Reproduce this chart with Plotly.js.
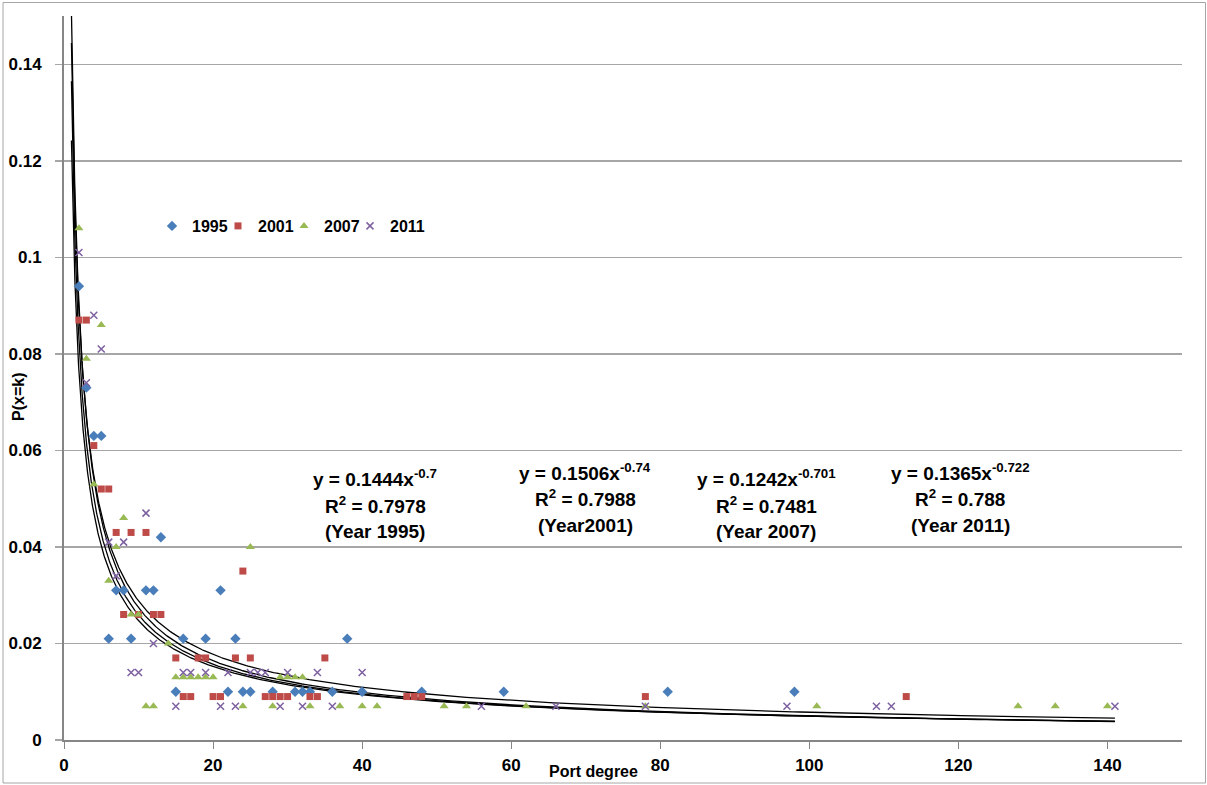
<!DOCTYPE html>
<html>
<head>
<meta charset="utf-8">
<script src="https://cdn.plot.ly/plotly-3.0.1.min.js"></script>
<style>
  html, body { margin: 0; padding: 0; background: #ffffff; }
  #chart { width: 1207px; height: 785px; }
</style>
</head>
<body>
<div id="chart"></div>
<script>
// ---------------- data ----------------
const years = ['1995', '2001', '2007', '2011'];

const x1995 = [2, 3, 4, 5, 6, 7, 8, 9, 11, 12, 13, 15, 16, 19, 21, 22, 23, 24, 25, 28, 31, 32, 33, 36, 38, 40, 48, 59, 81, 98];
const y1995 = [0.094, 0.073, 0.063, 0.063, 0.021, 0.031, 0.031, 0.021, 0.031, 0.031, 0.042, 0.010, 0.021, 0.021, 0.031, 0.010, 0.021, 0.010, 0.010, 0.010, 0.010, 0.010, 0.010, 0.010, 0.021, 0.010, 0.010, 0.010, 0.010, 0.010];

const x2001 = [2, 3, 4, 5, 6, 7, 8, 9, 10, 11, 12, 13, 15, 16, 17, 18, 19, 20, 21, 23, 24, 25, 27, 28, 29, 30, 33, 34, 35, 46, 47, 48, 78, 113];
const y2001 = [0.087, 0.087, 0.061, 0.052, 0.052, 0.043, 0.026, 0.043, 0.026, 0.043, 0.026, 0.026, 0.017, 0.009, 0.009, 0.017, 0.017, 0.009, 0.009, 0.017, 0.035, 0.017, 0.009, 0.009, 0.009, 0.009, 0.009, 0.009, 0.017, 0.009, 0.009, 0.009, 0.009, 0.009];

const x2007 = [2, 3, 4, 5, 6, 7, 8, 9, 10, 11, 12, 14, 15, 16, 17, 18, 19, 20, 24, 25, 28, 29, 30, 31, 32, 33, 37, 40, 42, 51, 54, 62, 78, 101, 128, 133, 140];
const y2007 = [0.106, 0.079, 0.053, 0.086, 0.033, 0.040, 0.046, 0.026, 0.026, 0.007, 0.007, 0.020, 0.013, 0.013, 0.013, 0.013, 0.013, 0.013, 0.007, 0.040, 0.007, 0.013, 0.013, 0.013, 0.013, 0.007, 0.007, 0.007, 0.007, 0.007, 0.007, 0.007, 0.007, 0.007, 0.007, 0.007, 0.007];

const x2011 = [2, 3, 4, 5, 6, 7, 8, 9, 10, 11, 12, 15, 16, 17, 19, 21, 22, 23, 25, 26, 27, 29, 30, 32, 34, 36, 40, 56, 66, 78, 97, 109, 111, 141];
const y2011 = [0.101, 0.074, 0.088, 0.081, 0.041, 0.034, 0.041, 0.014, 0.014, 0.047, 0.020, 0.007, 0.014, 0.014, 0.014, 0.007, 0.014, 0.007, 0.014, 0.014, 0.014, 0.007, 0.014, 0.007, 0.014, 0.007, 0.014, 0.007, 0.007, 0.007, 0.007, 0.007, 0.007, 0.007];

// power trendlines y = a * x^b (as printed on the chart)
const fitA = [0.1444, 0.1506, 0.1242, 0.1365];
const fitB = [-0.7, -0.74, -0.701, -0.722];
const fitR2 = ['0.7978', '0.7988', '0.7481', '0.788'];
const fitLabel = ['(Year 1995)', '(Year2001)', '(Year 2007)', '(Year 2011)'];

const xTickVals = [0, 20, 40, 60, 80, 100, 120, 140];
const yTickVals = [0, 0.02, 0.04, 0.06, 0.08, 0.1, 0.12, 0.14];
const yTickText = ['0', '0.02', '0.04', '0.06', '0.08', '0.1', '0.12', '0.14'];

// ---------------- styling ----------------
const FONT = 'Liberation Sans, Arial, sans-serif';
const colors = ['#4A7EBB', '#BE4B48', '#98B954', '#7D60A0'];
const xs = [x1995, x2001, x2007, x2011];
const ys = [y1995, y2001, y2007, y2011];
const markers = [
  {symbol: 'diamond', size: 8, color: colors[0], line: {width: 0}},
  {symbol: 'square', size: 7, color: colors[1], line: {width: 0}},
  {symbol: 'triangle-up', size: 8, color: colors[2], line: {width: 0}},
  {symbol: 'x-thin', size: 7, color: colors[3], line: {width: 1.5, color: colors[3]}}
];

const traces = [];
// trendlines drawn over the full degree range of the data
const xmaxAll = Math.max(...xs.map(a => Math.max(...a)));
for (let i = 0; i < 4; i++) {
  const tx = [], ty = [];
  const N = 500;
  for (let k = 0; k <= N; k++) {
    const xv = Math.pow(xmaxAll, k / N);
    tx.push(xv);
    ty.push(fitA[i] * Math.pow(xv, fitB[i]));
  }
  traces.push({
    x: tx, y: ty, type: 'scatter', mode: 'lines',
    line: {color: '#000000', width: 1.3},
    showlegend: false, hoverinfo: 'skip'
  });
}
for (let i = 0; i < 4; i++) {
  const t = {
    x: xs[i], y: ys[i], type: 'scatter', mode: 'markers',
    name: years[i], marker: markers[i], cliponaxis: false
  };
  if (i === 3) t.legendwidth = 45;
  traces.push(t);
}

// pixel -> paper helpers (plot area 64..1182 x 16..740)
const L = 64, R = 1182, T = 16, B = 740;
const px = p => (p - L) / (R - L);
const py = p => (B - p) / (B - T);

const annotations = [];
const eqX = [375, 585, 766, 960];
const eqY = [[478, 505, 531], [472, 498, 525], [478, 505, 531], [472, 498, 525]];
for (let i = 0; i < 4; i++) {
  const lines = [
    'y = ' + fitA[i] + 'x<sup>' + fitB[i] + '</sup>',
    'R<sup>2</sup> = ' + fitR2[i],
    fitLabel[i]
  ];
  for (let j = 0; j < 3; j++) {
    annotations.push({
      xref: 'paper', yref: 'paper', x: px(eqX[i]), y: py(eqY[i][j]),
      xanchor: 'center', yanchor: 'middle', showarrow: false, text: lines[j],
      font: {family: FONT, size: 19, color: '#000000', weight: 'bold'}
    });
  }
}
annotations.push({
  xref: 'paper', yref: 'paper', x: px(593), y: py(771), xanchor: 'center', yanchor: 'middle',
  showarrow: false, text: 'Port degree',
  font: {family: FONT, size: 16, color: '#000000', weight: 'bold'}
});
annotations.push({
  xref: 'paper', yref: 'paper', x: px(18), y: py(397), xanchor: 'center', yanchor: 'middle',
  showarrow: false, text: 'P(x=k)', textangle: -90,
  font: {family: FONT, size: 16, color: '#000000', weight: 'bold'}
});

const layout = {
  width: 1207, height: 785,
  margin: {l: L, r: 1207 - R, t: T, b: 785 - B, pad: 0},
  paper_bgcolor: '#ffffff', plot_bgcolor: '#ffffff',
  font: {family: FONT, color: '#000000'},
  showlegend: true,
  legend: {
    orientation: 'h', x: px(152), y: py(226), xanchor: 'left', yanchor: 'middle',
    bgcolor: 'rgba(0,0,0,0)', borderwidth: 0, itemwidth: 30,
    entrywidth: 21, entrywidthmode: 'pixels',
    font: {family: FONT, size: 16, color: '#000000', weight: 'bold'}
  },
  xaxis: {
    range: [0, 150], tickvals: xTickVals, showgrid: false, zeroline: false,
    showline: true, linecolor: '#868686', linewidth: 2,
    ticks: 'outside', ticklen: 7, tickwidth: 1, tickcolor: '#868686',
    ticklabelstandoff: 2,
    tickfont: {family: FONT, size: 17, color: '#000000', weight: 'bold'}
  },
  yaxis: {
    range: [0, 0.15], tickvals: yTickVals, ticktext: yTickText,
    showgrid: true, gridcolor: '#A6A6A6', gridwidth: 1.5, zeroline: false,
    showline: true, linecolor: '#868686', linewidth: 2,
    ticks: 'outside', ticklen: 7, tickwidth: 1.5, tickcolor: '#A6A6A6',
    ticklabelstandoff: 10,
    tickfont: {family: FONT, size: 17, color: '#000000', weight: 'bold'}
  },
  annotations: annotations,
  shapes: [{
    type: 'rect', xref: 'paper', yref: 'paper',
    x0: px(3), x1: px(1205.5), y0: py(783), y1: py(2.5),
    line: {color: '#A6A6A6', width: 1}, fillcolor: 'rgba(0,0,0,0)', layer: 'below'
  }]
};

Plotly.newPlot('chart', traces, layout, {displayModeBar: false, staticPlot: true});
</script>
</body>
</html>
